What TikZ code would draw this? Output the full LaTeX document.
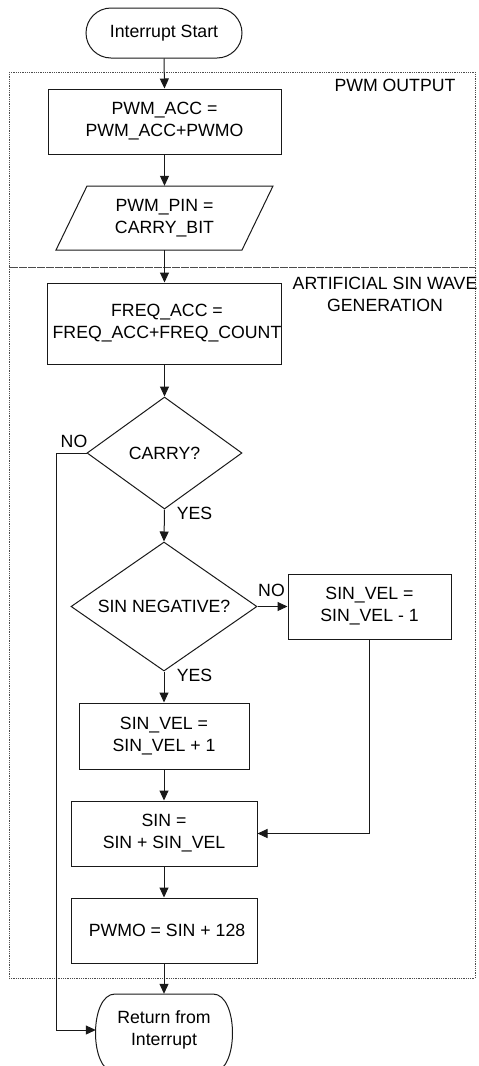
\documentclass[tikz,border=0pt]{standalone}
\usepackage{fontspec}
\setmainfont{Liberation Sans}
\usetikzlibrary{shapes.geometric,arrows.meta}
\begin{document}
\begin{tikzpicture}[x=1pt,y=-1pt,
  every node/.style={font=\fontsize{17.7}{22}\selectfont, align=center, inner sep=0pt},
  ln/.style={line width=1pt, draw=black!90},
  box/.style={ln, rectangle},
  dia/.style={ln, diamond},
  arr/.style={ln, -{Triangle[length=10pt,width=9pt]}},
  frame/.style={draw=black!70, line width=0.7pt, dash pattern=on 0.9pt off 0.9pt},
  lbl/.style={}
]
\useasboundingbox (0,0) rectangle (479,1066);
% frames
\draw[frame] (9,72) rectangle (475,267);
\draw[frame] (9,267) rectangle (475,978);
\node[lbl] (t1) at (395,85) {PWM OUTPUT};
\node[lbl] (t2) at (385,294.5) {ARTIFICIAL SIN WAVE\\GENERATION};
% nodes
\node[box, rounded corners=25, minimum width=156, minimum height=50] (start) at (164,33) {Interrupt Start};
\node[box, minimum width=233, minimum height=65] (acc) at (164.5,121.5) {PWM\_ACC =\\PWM\_ACC+PWMO};
\node[minimum width=150, minimum height=64] (pin) at (164.5,218) {PWM\_PIN =\\CARRY\_BIT};
\draw[ln] (87,186) -- (273,186) -- (242,250) -- (56,250) -- cycle;
\node[box, minimum width=233, minimum height=81] (freq) at (164.5,323.5) {\hspace*{5pt}FREQ\_ACC =\\\hspace*{5pt}FREQ\_ACC+FREQ\_COUNT};
\node[dia, minimum width=155, minimum height=112, label=center:{CARRY?}] (carry) at (164.5,453) {};
\node[dia, minimum width=186, minimum height=129, label=center:{SIN NEGATIVE?}] (neg) at (164,606.5) {};
\node[box, minimum width=163, minimum height=65] (minus) at (369.5,606.5) {SIN\_VEL =\\SIN\_VEL - 1};
\node[box, minimum width=170, minimum height=66] (plus) at (164,736) {SIN\_VEL =\\SIN\_VEL + 1};
\node[box, minimum width=186, minimum height=65] (sin) at (164,833.5) {SIN =\\SIN + SIN\_VEL};
\node[box, minimum width=186, minimum height=65] (pwmo) at (164,930.5) {\hspace*{6pt}PWMO = SIN + 128};
\node[minimum width=132, minimum height=72] (ret) at (164,1030) {Return from\\Interrupt};
\draw[ln] (115,994) -- (213,994) .. controls (239,994) and (239,1072) .. (213,1072) -- (115,1072) .. controls (89,1072) and (89,994) .. (115,994);
% connectors
\draw[arr] (start.south) -- (acc.north);
\draw[arr] (acc.south) -- (pin.north);
\draw[arr] (pin.south) -- (freq.north);
\draw[arr] (freq.south) -- (carry.north);
\draw[arr] (carry.south) -- (neg.north);
\draw[arr] (neg.south) -- (plus.north);
\draw[arr] (neg.east) -- (minus.west);
\draw[arr] (plus.south) -- (sin.north);
\draw[arr] (minus.south) |- (sin.east);
\draw[arr] (sin.south) -- (pwmo.north);
\draw[arr] (pwmo.south) -- (ret.north);
\coordinate (nob) at (56,453);
\draw[arr] (carry.west) -- (nob) |- ([xshift=-2pt]ret.west);
% labels
\node (no1) at (74,441) {NO};
\node (yes1) at (194.5,513) {YES};
\node (no2) at (271.5,590) {NO};
\node (yes2) at (194.5,675) {YES};
\end{tikzpicture}
\end{document}
